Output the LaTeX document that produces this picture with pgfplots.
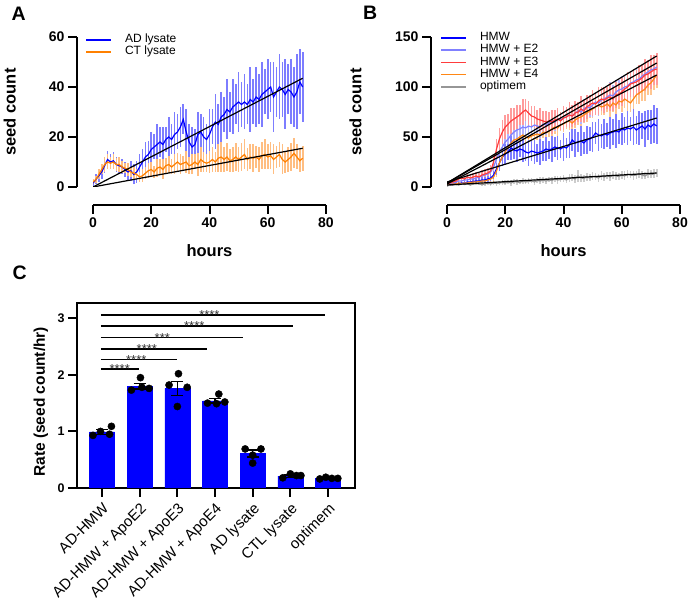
\documentclass[border=0pt]{standalone}
\usepackage{pgfplots}
\pgfplotsset{compat=1.18}
\usepackage{pgfplotstable}
\usepackage{fontspec}
\setmainfont{Liberation Sans}
\definecolor{cBlue}{RGB}{0,0,255}
\definecolor{cBlueE}{RGB}{125,125,255}
\definecolor{cOr}{RGB}{255,128,0}
\definecolor{cOrE}{RGB}{255,190,130}
\definecolor{cE2}{RGB}{128,128,255}
\definecolor{cE2E}{RGB}{180,180,255}
\definecolor{cE3}{RGB}{255,60,60}
\definecolor{cE3E}{RGB}{255,155,155}
\definecolor{cE4}{RGB}{255,135,20}
\definecolor{cE4E}{RGB}{255,198,145}
\definecolor{cOpt}{RGB}{150,150,150}
\definecolor{cOptE}{RGB}{205,205,205}

\pgfplotstableread{
h ad ead ct ect
0 1.5 1.5 2 1
1 3 2 3 1.5
2 4.5 2.5 5 2
3 6 3 7 2
4 8.5 3 9 3
5 11 3.5 10 3
6 10 3 9.5 2.5
7 10.5 3.5 10 3
8 9 3 9 2.5
9 8.5 3 9 3
10 8 3 8 2.5
11 7 3 7.5 2
12 6 3.5 7 2.5
13 6.5 4 6 2
14 5 4 5.5 2.5
15 6 4.5 5 2
16 8 5 4 2
17 10 5 4.5 2.5
18 12 6 5.5 2.5
19 13 5.5 6.5 3
20 15 7 7 3
21 16 5 6 2.5
22 17 8 7.5 3.5
23 18 6 8 3
24 17 7 7 4
25 19 5 8.5 3
26 20 8 9 3.5
27 19 6 8 3
28 21 9 9 4
29 22 7 10 3.5
30 24 8 9 4
31 27 6 9.5 3
32 22 9 10 4.5
33 18 7 8.5 3.5
34 16 8 9 4
35 17 6 10 3
36 21 9 9 4.5
37 22 7 11 5
38 20 8 10 4
39 19 6 9.5 3.5
40 21 10 10 4.5
41 24 7 11 5
42 26 11 10 4
43 25 8 11.5 5.5
44 28 10 12 6
45 29 7 11 5
46 31 12 12 5.5
47 30 8 10.5 4.5
48 32 11 11 5
49 33 8 12 5.5
50 34 12 11 5
51 33 9 12 5.5
52 34 11 13 6
53 33 8 11 4.5
54 35 13 12 5
55 34 9 11.5 5.5
56 36 12 12 4.5
57 35 10 11 5
58 37 13 12.5 5.5
59 38 9 13 6
60 39 12 12 5
61 40 10 12.5 5.5
62 36 14 11 6
63 38 10 12 4.5
64 40 13 13 5
65 39 11 11 6
66 37 14 10 4.5
67 39 10 11 5
68 38 13 12 5.5
69 36 12 13.5 6
70 38 15 12 5
71 42 13 10.5 4.5
72 40 14 11.5 5
}\tabA

\pgfplotstableread{
h hmw eh e2 ee2 e3 ee3 e4 ee4 op eop
0 2 1 2 1 3 1.5 2 1 1 0.5
1 2 1 3 1.5 4 2 2 1 2 0.5
2 3 1 4 1.5 5 2 3 1.5 2 1
3 3 1.5 5 2 6 2.5 3 1.5 2.5 1
4 3.5 1.5 6 2 8 3 4 1.5 2 1
5 4 1.5 6 2 9 3 3.5 2 3 1
6 4 2 7 2.5 8 3 4 2 2.5 1
7 5 2 7 2.5 10 3.5 4 2 3 1
8 5 2 8 3 9 3.5 4.5 2.5 2 1
9 5.5 2 8 3 10 4 5 2.5 3 1.5
10 6 2 9 3 11 4 5 2.5 3.5 1.5
11 6 2.5 10 3 10 4 5.5 3 3 1.5
12 7 2.5 11 3.5 12 4.5 6 3 2.5 1.5
13 7 3 12 3.5 13 5 6 3 3 2
14 8 3 13 4 14 5 7 3.5 4 2
15 9 3.5 15 4 16 6 8 4 3 2
16 12 4 20 5 25 8 10 5 4 2
17 18 6 28 6 38 10 16 6 3.5 2.5
18 24 8 35 7 48 11 24 7 4 2
19 30 9 40 8 55 12 30 7 4.5 2.5
20 33 10 45 9 60 12 35 8 4 2.5
21 35 8 48 7 63 10 40 6 5 2
22 39 12 52 10 66 13 44 8 4 3
23 37 9 55 8 68 11 47 7 5.5 2.5
24 36 11 57 9 70 12 48 8 5 3
25 38 8 58 7 72 10 50 6 4.5 2
26 37 12 60 10 75 13 52 8 6 3
27 35 9 59 8 77 11 50 7 5 2.5
28 34 13 61 11 74 12 49 8 5.5 3
29 36 10 60 9 71 10 51 6 6 2.5
30 35 12 62 10 70 11 52 7 5 3
31 34 9 61 8 68 9 53 6 6.5 2.5
32 35 13 60 11 67 12 52 8 6 3.5
33 36 10 63 9 66 10 55 6 7 3
34 38 12 62 10 65 11 54 7 6 3
35 37 9 64 8 66 9 56 6 7 2.5
36 38 13 66 11 65 12 58 8 6.5 3.5
37 40 10 65 9 67 10 60 7 8 3
38 39 12 68 10 68 11 59 8 7 4
39 38 9 67 8 66 9 62 6 7.5 3
40 40 14 69 11 69 12 63 8 8 3.5
41 39 10 70 9 70 10 65 7 7 3
42 42 13 72 12 72 13 66 9 8.5 4
43 47 11 71 10 71 11 64 7 9 3.5
44 44 14 74 11 74 12 67 8 8 4
45 45 10 76 9 75 10 69 7 11 6
46 46 15 75 12 78 13 70 9 9 4
47 44 11 78 10 76 11 72 8 8.5 3.5
48 47 14 80 11 80 12 74 9 10 4
49 48 12 79 9 82 10 76 7 9 3.5
50 50 15 82 12 84 13 78 9 10.5 4
51 54 11 85 10 83 11 80 8 10 3.5
52 52 16 84 13 86 14 82 10 9 4
53 51 12 87 11 88 12 80 8 11 4.5
54 53 15 88 12 87 13 81 9 10 4
55 52 12 90 10 89 11 83 8 11.5 3.5
56 54 16 92 13 90 14 80 10 10 4.5
57 55 13 91 11 88 12 84 9 12 4
58 56 17 95 12 92 13 82 10 11 4
59 55 12 97 10 93 11 86 8 10.5 3.5
60 58 16 98 13 95 14 85 10 12 4
61 57 13 100 11 98 12 88 9 11 4.5
62 59 17 101 12 100 15 86 11 13 4
63 58 12 104 10 103 13 84 9 12 3.5
64 60 18 105 13 104 14 88 10 11.5 4.5
65 57 14 107 11 105 12 92 9 12 4
66 59 17 108 12 107 15 94 11 13 4.5
67 61 13 111 10 109 13 96 10 12 4
68 58 18 113 13 112 16 98 12 11 3.5
69 62 15 115 11 113 14 102 10 13 4.5
70 60 17 117 12 115 17 104 12 12.5 4
71 63 19 118 11 117 15 108 11 13 4.5
72 61 18 120 13 118 16 112 13 14 4
}\tabB

\newcommand{\tickfont}{\fontsize{14}{14}\selectfont\bfseries}
\pgfplotsset{
  gp/.style={
    scale only axis, axis lines=left, axis line style={-, line width=2pt},
    axis x line shift=18pt, axis y line shift=16pt,
    tick align=outside, major tick length=9pt,
    tick style={black, line width=2pt},
    /pgf/number format/assume math mode=true,
    xticklabel={\mbox{\tickfont\pgfmathprintnumber{\tick}}},
    yticklabel={\mbox{\tickfont\pgfmathprintnumber{\tick}}},
    label style={font=\fontsize{16.5}{16.5}\selectfont\bfseries},
    legend style={draw=none, fill=none, font=\fontsize{12}{12}\selectfont, anchor=north west,
      row sep=0pt, column sep=13pt, inner sep=0pt,
      nodes={inner sep=0pt, text height=8.6pt, text depth=3.5pt}},
    legend cell align=left,
    legend image code/.code={\draw[#1, line width=1.8pt] (0pt,0pt) -- (25pt,0pt);},
  },
  ebar/.style={forget plot, draw=none, mark=none,
    /pgfplots/error bars/y dir=both, /pgfplots/error bars/y explicit,
    /pgfplots/error bars/error mark=none,
    /pgfplots/error bars/error bar style={draw=#1, line width=1.6pt}},
  mline/.style={#1, line width=1.2pt, mark=none},
  fit/.style={black, line width=1.2pt, forget plot, mark=none},
}

\begin{document}
\begin{tikzpicture}
\useasboundingbox (0,0) rectangle (690pt,609pt);

% ---------------- Panel A
\begin{axis}[gp, at={(93pt,422pt)}, anchor=south west, width=233pt, height=150pt,
  xmin=0, xmax=80, ymin=0, ymax=60, xtick={0,20,40,60,80}, ytick={0,20,40,60},
  xlabel={hours}, ylabel={seed count},
  xlabel style={at={(axis description cs:0.5,-0.425)}, anchor=center},
  ylabel style={at={(axis description cs:-0.357,0.5)}, anchor=center},
  legend style={at={(axis description cs:-0.034,1.02)}},
]
\addplot[ebar=cBlueE] table[x=h,y=ad,y error=ead]{\tabA};
\addplot[ebar=cOrE] table[x=h,y=ct,y error=ect]{\tabA};
\addplot[mline=cBlue] table[x=h,y=ad]{\tabA};
\addplot[mline=cOr] table[x=h,y=ct]{\tabA};
\addplot[fit] coordinates {(0,0) (72,43.5)};
\addplot[fit] coordinates {(0,0) (72,15.5)};
\legend{AD lysate, CT lysate}
\end{axis}

% ---------------- Panel B
\begin{axis}[gp, at={(447pt,422pt)}, anchor=south west, width=233pt, height=150pt,
  xmin=0, xmax=80, ymin=0, ymax=150, xtick={0,20,40,60,80}, ytick={0,50,100,150},
  xlabel={hours}, ylabel={seed count},
  xlabel style={at={(axis description cs:0.5,-0.425)}, anchor=center},
  ylabel style={at={(axis description cs:-0.393,0.5)}, anchor=center},
  legend style={at={(axis description cs:-0.03,1.033)}},
]
\addplot[ebar=cOptE] table[x=h,y=op,y error=eop]{\tabB};
\addplot[ebar=cE4E] table[x=h,y=e4,y error=ee4]{\tabB};
\addplot[ebar=cE2E] table[x=h,y=e2,y error=ee2]{\tabB};
\addplot[ebar=cE3E] table[x=h,y=e3,y error=ee3]{\tabB};
\addplot[ebar=cBlueE] table[x=h,y=hmw,y error=eh]{\tabB};
\addplot[mline=cBlue] table[x=h,y=hmw]{\tabB};
\addplot[mline=cE2] table[x=h,y=e2]{\tabB};
\addplot[mline=cE3] table[x=h,y=e3]{\tabB};
\addplot[mline=cE4] table[x=h,y=e4]{\tabB};
\addplot[mline=cOpt] table[x=h,y=op]{\tabB};
\addplot[fit] coordinates {(0,4) (72,131)};
\addplot[fit] coordinates {(0,4) (72,124)};
\addplot[fit] coordinates {(0,3) (72,112)};
\addplot[fit] coordinates {(0,5) (72,69)};
\addplot[fit] coordinates {(0,2) (72,14)};
\legend{HMW, HMW + E2, HMW + E3, HMW + E4, optimem}
\end{axis}

% ---------------- Panel C
\begin{axis}[scale only axis, at={(77pt,121pt)}, anchor=south west, width=278pt, height=185pt,
  xmin=-0.664, xmax=6.716, ymin=0, ymax=3.27,
  axis line style={line width=2pt}, tick align=outside, major tick length=9pt,
  tick style={black, line width=2pt}, tick pos=left,
  xtick={0,1,2,3,4,5,6}, ytick={0,1,2,3},
  xticklabels={AD-HMW, AD-HMW + ApoE2, AD-HMW + ApoE3, AD-HMW + ApoE4, AD lysate, CTL lysate, optimem},
  xticklabel style={rotate=45, anchor=north east, font=\fontsize{15}{15}\selectfont},
  /pgf/number format/assume math mode=true,
  yticklabel={\mbox{\fontsize{12.5}{12.5}\selectfont\bfseries\pgfmathprintnumber{\tick}}},
  ylabel={Rate (seed count/hr)},
  ylabel style={font=\fontsize{15.5}{15.5}\selectfont\bfseries, at={(axis description cs:-0.130,0.466)}, anchor=center},
]
\addplot[ybar, bar width=25pt, fill=cBlue, draw=cBlue,
  error bars/.cd, y dir=both, y explicit,
  error bar style={black, line width=1.3pt},
  error mark options={rotate=90, mark size=6pt, line width=1.3pt, black}]
  coordinates {(0,0.99) +- (0,0.04) (1,1.80) +- (0,0.05) (2,1.76) +- (0,0.12)
    (3,1.54) +- (0,0.04) (4,0.61) +- (0,0.06) (5,0.21) +- (0,0.02) (6,0.17) +- (0,0.01)};
\addplot[only marks, mark=*, mark size=3.6pt, black] coordinates {
  (-0.24,0.93) (-0.04,1.00) (0.2,0.95) (0.25,1.09)
  (0.78,1.73) (1.02,1.95) (1.25,1.76) (1.06,1.78)
  (1.78,1.82) (2.03,2.02) (2.26,1.78) (2.0,1.44)
  (2.8,1.50) (3.1,1.66) (3.26,1.52) (3.04,1.49)
  (3.8,0.69) (4.0,0.58) (4.22,0.69) (4.0,0.44)
  (4.8,0.18) (5.0,0.25) (5.16,0.22) (5.28,0.22)
  (5.78,0.16) (5.94,0.19) (6.1,0.17) (6.26,0.17)};
\addplot[black, line width=1.5pt, forget plot] coordinates {(-0.03,3.06) (5.92,3.06)};
\addplot[black, line width=1.5pt, forget plot] coordinates {(-0.03,2.86) (5.08,2.86)};
\addplot[black, line width=1.5pt, forget plot] coordinates {(-0.03,2.66) (3.73,2.66)};
\addplot[black, line width=1.5pt, forget plot] coordinates {(-0.03,2.46) (2.80,2.46)};
\addplot[black, line width=1.5pt, forget plot] coordinates {(-0.03,2.27) (2.0,2.27)};
\addplot[black, line width=1.5pt, forget plot] coordinates {(-0.03,2.10) (0.99,2.10)};
\begin{scope}[every node/.style={font=\fontsize{13}{13}\selectfont, text=black!80, anchor=base, inner sep=0pt, yshift=-4.6pt}]
\node at (axis cs:2.85,3.06) {****};
\node at (axis cs:2.45,2.86) {****};
\node at (axis cs:1.60,2.66) {***};
\node at (axis cs:1.19,2.46) {****};
\node at (axis cs:0.91,2.27) {****};
\node at (axis cs:0.47,2.10) {****};
\end{scope}
\end{axis}

\node[font=\fontsize{19.5}{19.5}\selectfont\bfseries, anchor=base west, inner sep=0pt] at (11.5pt,588.3pt) {A};
\node[font=\fontsize{19.5}{19.5}\selectfont\bfseries, anchor=base west, inner sep=0pt] at (363pt,589pt) {B};
\node[font=\fontsize{19.5}{19.5}\selectfont\bfseries, anchor=base west, inner sep=0pt] at (12.5pt,329pt) {C};
\end{tikzpicture}
\end{document}
